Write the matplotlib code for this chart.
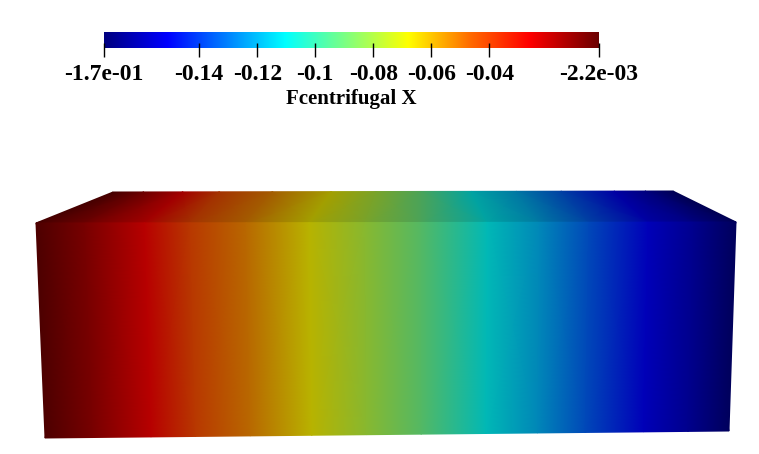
import numpy as np
import matplotlib
matplotlib.use("Agg")
import matplotlib.pyplot as plt
from matplotlib.colors import LinearSegmentedColormap

# colour scale
vmin = -0.1728
vmax = -0.0022
tick_values = [vmin, -0.14, -0.12, -0.1, -0.08, -0.06, -0.04, vmax]
tick_labels = ["-1.7e-01", "-0.14", "-0.12", "-0.1", "-0.08", "-0.06", "-0.04", "-2.2e-03"]
bar_title = "Fcentrifugal X"

scale_pos = [0.0, 0.127, 0.366, 0.49, 0.615, 0.74, 0.86, 1.0]
scale_rgb = [(0, 0, 0.5), (0, 0, 1), (0, 1, 1), (0.5, 1, 0.5), (1, 1, 0),
             (1, 0.42, 0), (1, 0, 0), (0.42, 0, 0)]

# field read along the block, left to right (0 = left edge, 1 = right edge)
front_pos = [0.0, 0.07, 0.155, 0.22, 0.30, 0.39, 0.47, 0.55, 0.645, 0.72, 0.79, 0.875, 0.94, 1.0]
back_pos = [0.0, 0.055, 0.125, 0.19, 0.285, 0.39, 0.47, 0.55, 0.64, 0.72, 0.80, 0.895, 0.95, 1.0]
block_val = [-0.0022, -0.012, -0.026, -0.041, -0.052, -0.067, -0.079, -0.091, -0.110, -0.121, -0.135, -0.151, -0.161, -0.1728]

# corners of the block in pixels
front_top = [(36, 223), (736, 222)]
front_bot = [(45, 438), (729, 431)]
back_top = [(113, 192), (673, 191)]


def shaded(factor):
    rgb = [tuple(c * factor for c in col) for col in scale_rgb]
    return LinearSegmentedColormap.from_list("s", list(zip(scale_pos, rgb)), N=512)


def edge(p, q, t):
    t = np.array(t)
    return p[0] + (q[0] - p[0]) * t, p[1] + (q[1] - p[1]) * t


def face(ax, edge_a, pos_a, edge_b, pos_b, cmap):
    xa, ya = edge(edge_a[0], edge_a[1], pos_a)
    xb, yb = edge(edge_b[0], edge_b[1], pos_b)
    X = np.array([xa, xb])
    Y = np.array([ya, yb])
    C = np.array([block_val, block_val])
    ax.pcolormesh(X, Y, C, cmap=cmap, vmin=vmin, vmax=vmax, shading="gouraud")


fig = plt.figure(figsize=(7.59, 4.54), dpi=100)
ax = fig.add_axes([0, 0, 1, 1])
ax.set_xlim(0, 759)
ax.set_ylim(454, 0)
ax.axis("off")

face(ax, back_top, back_pos, front_top, front_pos, shaded(0.64))
face(ax, front_top, front_pos, front_bot, front_pos, shaded(0.72))

# colour bar, axes run 2 px below the gradient so the ticks sit at y 43-57
font = {"family": "Liberation Serif", "weight": "bold", "color": "black"}
cax = fig.add_axes([104 / 759, 1 - 50 / 454, 495 / 759, 18 / 454])
grad = np.linspace(vmin, vmax, 512).reshape(1, -1)
cax.imshow(grad, aspect="auto", cmap=shaded(1.0), vmin=vmin, vmax=vmax,
           extent=[vmin, vmax, 2 / 18, 1])
cax.set_xlim(vmin, vmax)
cax.set_ylim(0, 1)
cax.set_yticks([])
for s in cax.spines.values():
    s.set_visible(False)
cax.set_xticks(tick_values)
cax.set_xticklabels(tick_labels, fontdict=font, fontsize=17)
cax.tick_params(axis="x", direction="inout", length=10, width=1, pad=5)
cax.set_xlabel(bar_title, fontdict=font, fontsize=15, labelpad=3)

fig.savefig("out.png", dpi=100)
